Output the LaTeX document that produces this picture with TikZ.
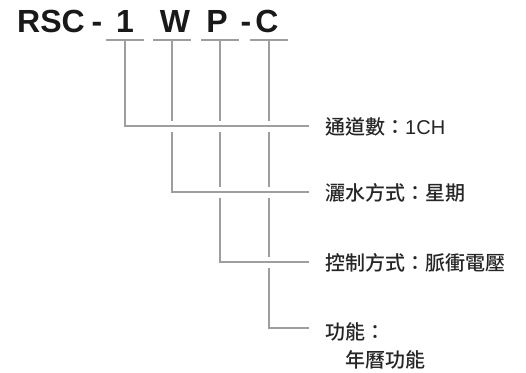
\documentclass[tikz,border=0pt]{standalone}
\usepackage{fontspec}
\setmainfont{Liberation Sans}
\newfontfamily\cjk{Noto Sans CJK TC Medium}
\usepackage{tikz}

\begin{document}
\begin{tikzpicture}[x=1pt, y=-1pt,
    code/.style={inner sep=0, anchor=base, text=black!90, font=\bfseries\fontsize{32}{36}\selectfont},
    lbl/.style={inner sep=0, anchor=base west, text=black!85, font=\cjk\fontsize{20}{24}\selectfont},
    conn/.style={draw=black!38, line width=2.2pt,
        preaction={draw=white, line width=11pt}},
    bar/.style={draw=black!38, line width=2.4pt}]
    \useasboundingbox (0, 0) rectangle (526, 372);

    % model code
    \node[code, anchor=base west] (rsc) at (17, 32) {RSC};
    \node[code] (d1) at (97, 32) {-};
    \node[code] (c1) at (125, 32) {1};
    \node[code] (cw) at (175, 32) {W};
    \node[code] (cp) at (217, 32) {P};
    \node[code] (d2) at (246, 32) {-};
    \node[code] (cc) at (267, 32) {C};

    % bar under each letter and end of each leader
    \coordinate (b1) at (125, 40);
    \coordinate (b2) at (172, 40);
    \coordinate (b3) at (220, 40);
    \coordinate (b4) at (269, 40);
    \coordinate (e1) at (309, 126);
    \coordinate (e2) at (309, 192);
    \coordinate (e3) at (309, 262);
    \coordinate (e4) at (309, 328);

    % meanings
    \node[lbl] (ch) at (325, 134) {通道數：\rmfamily 1CH};
    \node[lbl] (wt) at (325, 200) {灑水方式：星期};
    \node[lbl] (ctl) at (325, 270) {控制方式：脈衝電壓};
    \node[lbl] (fn) at (325, 339) {功能：};
    \node[lbl] (fnv) at (345, 367) {年曆功能};

    % leaders, last one first so the upper ones cut the lower ones
    \draw[conn] (b4) |- (e4);
    \draw[conn] (b3) |- (e3);
    \draw[conn] (b2) |- (e2);
    \draw[conn] (b1) |- (e1);

    \foreach \b in {b1, b2, b3, b4}
        \draw[bar] ([xshift=-19pt]\b) -- ([xshift=19pt]\b);
\end{tikzpicture}
\end{document}
